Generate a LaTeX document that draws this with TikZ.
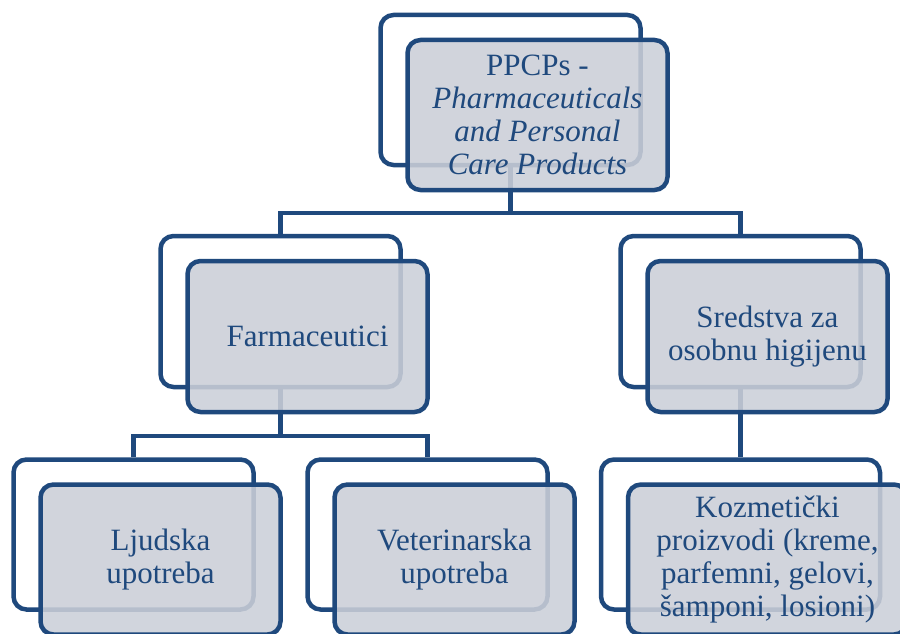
\documentclass[tikz,border=0pt]{standalone}
\usepackage{fontspec}
\setmainfont{Liberation Serif}
\definecolor{ppblue}{RGB}{31,73,125}
\definecolor{ppgrey}{RGB}{203,207,216}

\begin{document}
\begin{tikzpicture}[x=1pt, y=-1pt,
    back/.style={draw=ppblue, line width=4.5pt, rounded corners=13pt, fill=white, minimum width=240pt, minimum height=151pt},
    front/.style={back, fill=ppgrey, fill opacity=0.88, text opacity=1, text=ppblue, align=center, font=\fontsize{31}{33}\selectfont},
    link/.style={draw=ppblue, line width=4.5pt}]
    \useasboundingbox (0,0) rectangle (900,634);
    \clip (0,0) rectangle (900,634);
    \node[back, minimum width=260pt, minimum height=150pt] (topB) at (510.5,90) {};
    \node[back] (farmB) at (280.5,311.5) {};
    \node[back] (sredB) at (740.5,311.5) {};
    \node[back, minimum height=150pt] (ljudB) at (133.5,534.5) {};
    \node[back, minimum height=150pt] (vetB) at (427.5,534.5) {};
    \node[back, minimum width=279pt, minimum height=150pt] (kozB) at (740.5,534.5) {};
    \coordinate (j1) at (510.5,213);
    \coordinate (j2) at (280.5,436);
    \draw[link] (topB.south) -- (j1);
    \draw[link] (farmB.north) |- (j1) -| (sredB.north);
    \draw[link] (farmB.south) -- (j2);
    \draw[link] (ljudB.north) |- (j2) -| (vetB.north);
    \draw[link] (sredB.south) -- (kozB.north);
    \node[front, minimum width=260pt, minimum height=150pt] (topF) at (537.5,115) {PPCPs -\\\textit{Pharmaceuticals}\\\textit{and Personal}\\\textit{Care Products}};
    \node[front] (farmF) at (307.5,336.5) {Farmaceutici};
    \node[front] (sredF) at (767.5,336.5) {Sredstva za\\osobnu higijenu};
    \node[front, minimum height=150pt] (ljudF) at (160.5,559.5) {Ljudska\\upotreba};
    \node[front, minimum height=150pt] (vetF) at (454.5,559.5) {Veterinarska\\upotreba};
    \node[front, minimum width=279pt, minimum height=150pt] (kozF) at (767.5,559.5) {Kozmetički\\proizvodi (kreme,\\parfemni, gelovi,\\šamponi, losioni)};
\end{tikzpicture}
\end{document}
